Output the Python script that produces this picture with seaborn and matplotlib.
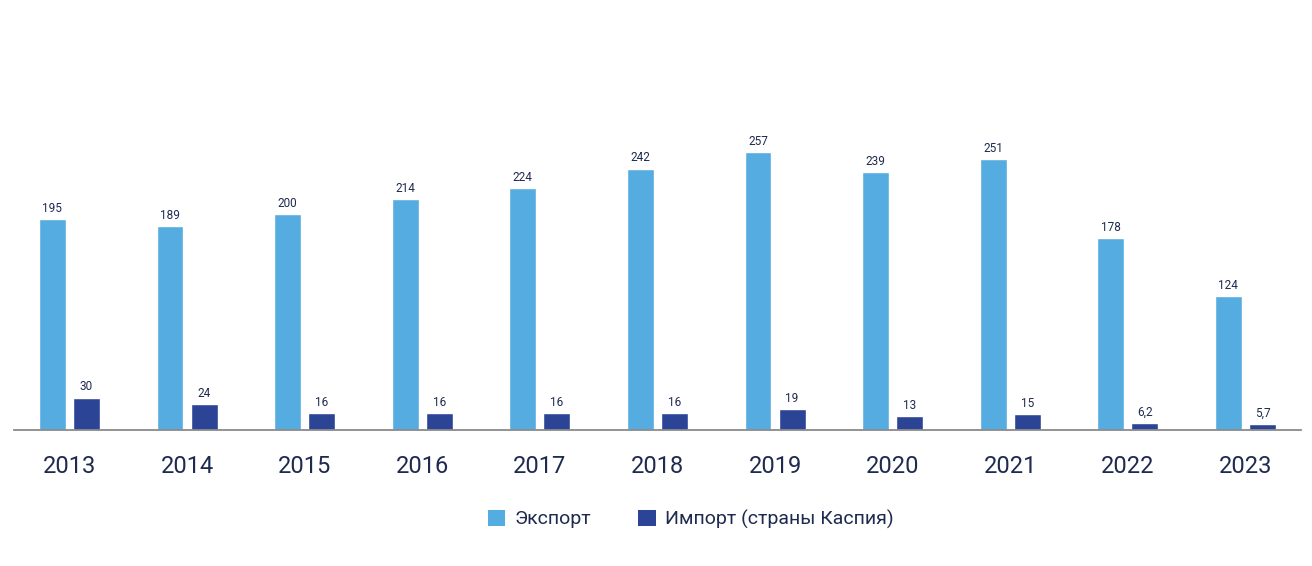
import matplotlib
matplotlib.use("Agg")
import matplotlib.pyplot as plt
import seaborn as sns
import pandas as pd
from matplotlib.patches import Patch

years = ["2013", "2014", "2015", "2016", "2017", "2018", "2019", "2020", "2021", "2022", "2023"]
export_vals = [195, 189, 200, 214, 224, 242, 257, 239, 251, 178, 124]
import_vals = [30, 24, 16, 16, 16, 16, 19, 13, 15, 6.2, 5.7]
series_names = ["Экспорт", "Импорт (страны Каспия)"]
colors = ["#55ACE0", "#2C4495"]
text_color = "#1E2A4F"

df = pd.DataFrame({
    "year": years * 2,
    "value": export_vals + import_vals,
    "series": [series_names[0]] * len(years) + [series_names[1]] * len(years),
})

sns.set_theme(style="white")
plt.rcParams["font.family"] = ["Roboto", "DejaVu Sans"]

fig = plt.figure(figsize=(13.12, 5.66), dpi=100)
ax = fig.add_axes([14.2 / 1312, 0.2403, 1286.5 / 1312, 0.725])

sns.barplot(data=df, x="year", y="value", hue="series", order=years,
            hue_order=series_names, palette=colors, width=0.58, gap=0.21,
            ax=ax, legend=False, saturation=1)

def fmt(v):
    s = f"{v:g}"
    return s.replace(".", ",")

for cont, vals in zip(ax.containers, [export_vals, import_vals]):
    ax.bar_label(cont, labels=[fmt(v) for v in vals], padding=3,
                 fontsize=8.5, color=text_color)

ax.set_xlim(-0.47, 10.47)
ax.set_ylim(0, 380)
ax.set_xlabel("")
ax.set_ylabel("")
ax.set_yticks([])
for side in ["top", "right", "left"]:
    ax.spines[side].set_visible(False)
ax.spines["bottom"].set_color("#8A8A8A")
ax.spines["bottom"].set_linewidth(1.3)
ax.tick_params(axis="x", length=0, pad=18, labelsize=17, labelcolor=text_color)

handles = [Patch(facecolor=c, edgecolor="none") for c in colors]
fig.legend(handles, series_names, loc="center", bbox_to_anchor=(0.5265, 0.083),
           ncol=2, frameon=False, fontsize=14, handlelength=0.9, handleheight=0.9,
           handletextpad=0.5, columnspacing=2.4, labelcolor=text_color)

fig.savefig("out.png", dpi=100, facecolor="white")
